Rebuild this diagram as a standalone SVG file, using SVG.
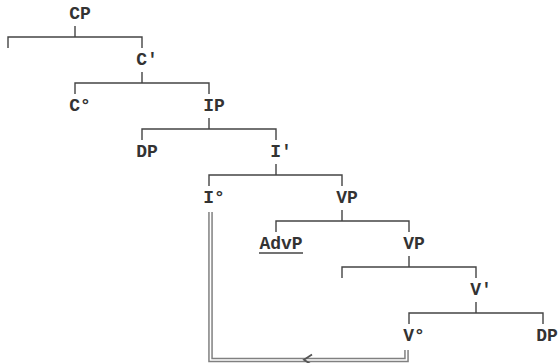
<svg xmlns="http://www.w3.org/2000/svg" width="558" height="363" viewBox="0 0 558 363">
  <style>
    .lbl { font-family: "Liberation Mono", "Courier New", monospace; font-size: 18px; font-weight: bold; fill: #333; text-anchor: middle; }
    .ln { stroke: #444; stroke-width: 1.4; fill: none; }
    .mv-out { stroke: #808080; stroke-width: 4.6; fill: none; stroke-linejoin: miter; }
    .mv-in { stroke: #fff; stroke-width: 1.6; fill: none; stroke-linejoin: miter; }
    .arr { stroke: #555; stroke-width: 1.8; fill: none; }
  </style>
  <rect width="558" height="363" fill="#fff"/>
  <g id="connectors">
    <path class="ln" d="M8,48 V37 H142 V48 M75,26 V37"/>
    <path class="ln" d="M75,94 V83 H209 V94 M142,72 V83"/>
    <path class="ln" d="M142,140 V129 H276 V140 M209,118 V129"/>
    <path class="ln" d="M209,186 V175 H342 V186 M276,164 V175"/>
    <path class="ln" d="M276,232 V221 H409 V232 M342,210 V221"/>
    <path class="ln" d="M342,278 V267 H476 V278 M409,256 V267"/>
    <path class="ln" d="M409,324 V313 H543 V324 M476,302 V313"/>
    <g id="movement">
      <path class="mv-out" d="M210.5,212 V360 H406.5 V350"/>
      <path class="mv-in" d="M210.5,212 V360 H406.5 V350"/>
      <path class="arr" d="M312,354.5 L304,359.8 L312,365"/>
    </g>
  </g>
  <g id="CP"><text class="lbl" x="80" y="19">CP</text></g>
  <g id="Cbar"><text class="lbl" x="147" y="65">C′</text></g>
  <g id="C0"><text class="lbl" x="80" y="111">C°</text></g>
  <g id="IP"><text class="lbl" x="214" y="111">IP</text></g>
  <g id="DP1"><text class="lbl" x="147" y="157">DP</text></g>
  <g id="Ibar"><text class="lbl" x="281" y="157">I′</text></g>
  <g id="I0"><text class="lbl" x="214" y="203">I°</text></g>
  <g id="VP1"><text class="lbl" x="347" y="203">VP</text></g>
  <g id="AdvP"><text class="lbl" x="281" y="249">AdvP</text><line class="ln" x1="259" y1="253" x2="303" y2="253"/></g>
  <g id="VP2"><text class="lbl" x="414" y="249">VP</text></g>
  <g id="Vbar"><text class="lbl" x="481" y="295">V′</text></g>
  <g id="V0"><text class="lbl" x="414" y="341">V°</text></g>
  <g id="DP2"><text class="lbl" x="547" y="341">DP</text></g>
</svg>
